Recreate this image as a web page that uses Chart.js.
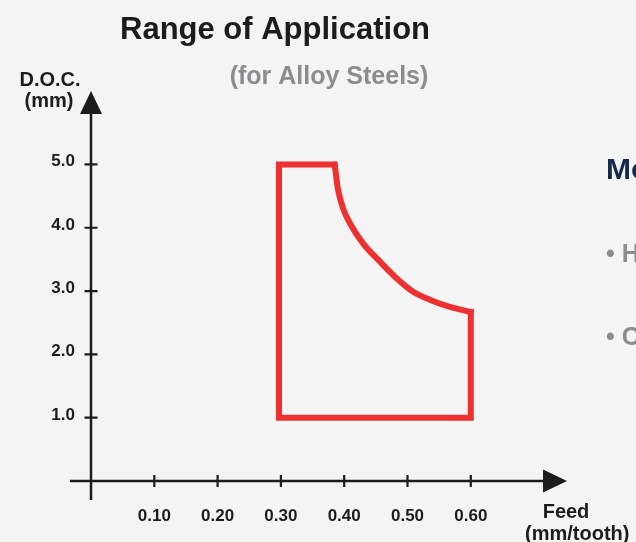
<!DOCTYPE html>
<html>
<head>
<meta charset="utf-8">
<script src="https://cdn.jsdelivr.net/npm/chart.js@4"></script>
<style>
html, body { margin: 0; padding: 0; background: #f4f4f4; }
canvas { display: block; }
</style>
</head>
<body>
<canvas id="chart" width="636" height="542"></canvas>
<script>
// tick values on both axes
const feedTicks = [0.10, 0.20, 0.30, 0.40, 0.50, 0.60];
const docTicks = [1.0, 2.0, 3.0, 4.0, 5.0];

// straight edges of the application range (feed, doc)
const edgeFeed = [0.385, 0.297, 0.297, 0.600, 0.600];
const edgeDoc  = [5.0,   5.0,   1.0,   1.0,   2.67];

// curved upper-right boundary
const curveFeed = [0.385, 0.390, 0.398, 0.412, 0.430, 0.457, 0.483, 0.509, 0.536, 0.567, 0.600];
const curveDoc  = [5.0,   4.62,  4.31,  4.02,  3.75,  3.46,  3.20,  2.99,  2.86,  2.75,  2.67];

const FONT = '"Liberation Sans", Arial, Helvetica, sans-serif';
const INK = '#1c1c1c';
const RED = '#ee3030';

function text(ctx, str, x, y, size, color, align) {
    ctx.font = `bold ${size}px ${FONT}`;
    ctx.fillStyle = color;
    ctx.textAlign = align || 'left';
    ctx.textBaseline = 'alphabetic';
    ctx.fillText(str, x, y);
}

function points(xs, ys) {
    return xs.map((v, i) => ({ x: v, y: ys[i] }));
}

const decor = {
    id: 'decor',
    beforeDraw(chart) {
        const ctx = chart.ctx;
        ctx.save();
        ctx.fillStyle = '#f4f4f4';
        ctx.fillRect(0, 0, chart.width, chart.height);
        ctx.restore();
    },
    afterDraw(chart) {
        const ctx = chart.ctx;
        const area = chart.chartArea;
        const xs = chart.scales.x;
        const ys = chart.scales.y;
        const x0 = xs.getPixelForValue(0);
        const y0 = ys.getPixelForValue(0);

        ctx.save();
        ctx.strokeStyle = INK;
        ctx.fillStyle = INK;
        ctx.lineWidth = 2.5;

        // axis lines
        ctx.beginPath();
        ctx.moveTo(area.left, y0);
        ctx.lineTo(area.right - 20, y0);
        ctx.moveTo(x0, area.bottom);
        ctx.lineTo(x0, area.top + 20);
        ctx.stroke();

        // arrow heads
        ctx.beginPath();
        ctx.moveTo(area.right, y0);
        ctx.lineTo(area.right - 24, y0 - 11.5);
        ctx.lineTo(area.right - 24, y0 + 11.5);
        ctx.closePath();
        ctx.fill();
        ctx.beginPath();
        ctx.moveTo(x0, area.top);
        ctx.lineTo(x0 - 11, area.top + 23);
        ctx.lineTo(x0 + 11, area.top + 23);
        ctx.closePath();
        ctx.fill();

        // tick marks
        ctx.lineWidth = 2.2;
        ctx.beginPath();
        feedTicks.forEach(v => {
            const px = xs.getPixelForValue(v);
            ctx.moveTo(px, y0 - 6);
            ctx.lineTo(px, y0 + 6);
        });
        docTicks.forEach(v => {
            const py = ys.getPixelForValue(v);
            ctx.moveTo(x0 - 6.5, py);
            ctx.lineTo(x0 + 6.5, py);
        });
        ctx.stroke();

        // tick labels
        feedTicks.forEach(v => {
            text(ctx, v.toFixed(2), xs.getPixelForValue(v), 521, 17, INK, 'center');
        });
        docTicks.forEach(v => {
            text(ctx, v.toFixed(1), 75, ys.getPixelForValue(v) + 2, 17, INK, 'right');
        });

        // axis titles
        text(ctx, 'D.O.C.', 50, 86, 20, INK, 'center');
        text(ctx, '(mm)', 49, 107, 20, INK, 'center');
        text(ctx, 'Feed', 566, 518, 20, INK, 'center');
        text(ctx, '(mm/tooth)', 525, 540, 20, INK, 'left');

        // titles
        text(ctx, 'Range of Application', 275, 39, 31, INK, 'center');
        text(ctx, '(for Alloy Steels)', 329, 84, 25, '#8c8c8e', 'center');

        // neighbouring panel, cut off at the right edge
        text(ctx, 'Mo', 606, 179, 30, '#15294a', 'left');
        text(ctx, '• H', 606, 262, 25, '#8c8c8e', 'left');
        text(ctx, '• C', 606, 345, 25, '#8c8c8e', 'left');
        ctx.restore();
    }
};

new Chart(document.getElementById('chart'), {
    type: 'scatter',
    data: {
        datasets: [{
            data: points(edgeFeed, edgeDoc),
            showLine: true,
            borderColor: RED,
            borderWidth: 6,
            borderJoinStyle: 'miter',
            borderCapStyle: 'square',
            pointRadius: 0,
            tension: 0,
            fill: false
        }, {
            data: points(curveFeed, curveDoc),
            showLine: true,
            borderColor: RED,
            borderWidth: 6,
            borderCapStyle: 'round',
            cubicInterpolationMode: 'monotone',
            pointRadius: 0,
            fill: false
        }]
    },
    options: {
        responsive: false,
        animation: false,
        events: [],
        layout: { padding: { left: 70, right: 69, top: 91, bottom: 42 } },
        plugins: { legend: { display: false }, tooltip: { enabled: false } },
        scales: {
            x: { type: 'linear', display: false, min: -0.0332, max: 0.752 },
            y: { type: 'linear', display: false, min: -0.30, max: 6.16 }
        }
    },
    plugins: [decor]
});
</script>
</body>
</html>
